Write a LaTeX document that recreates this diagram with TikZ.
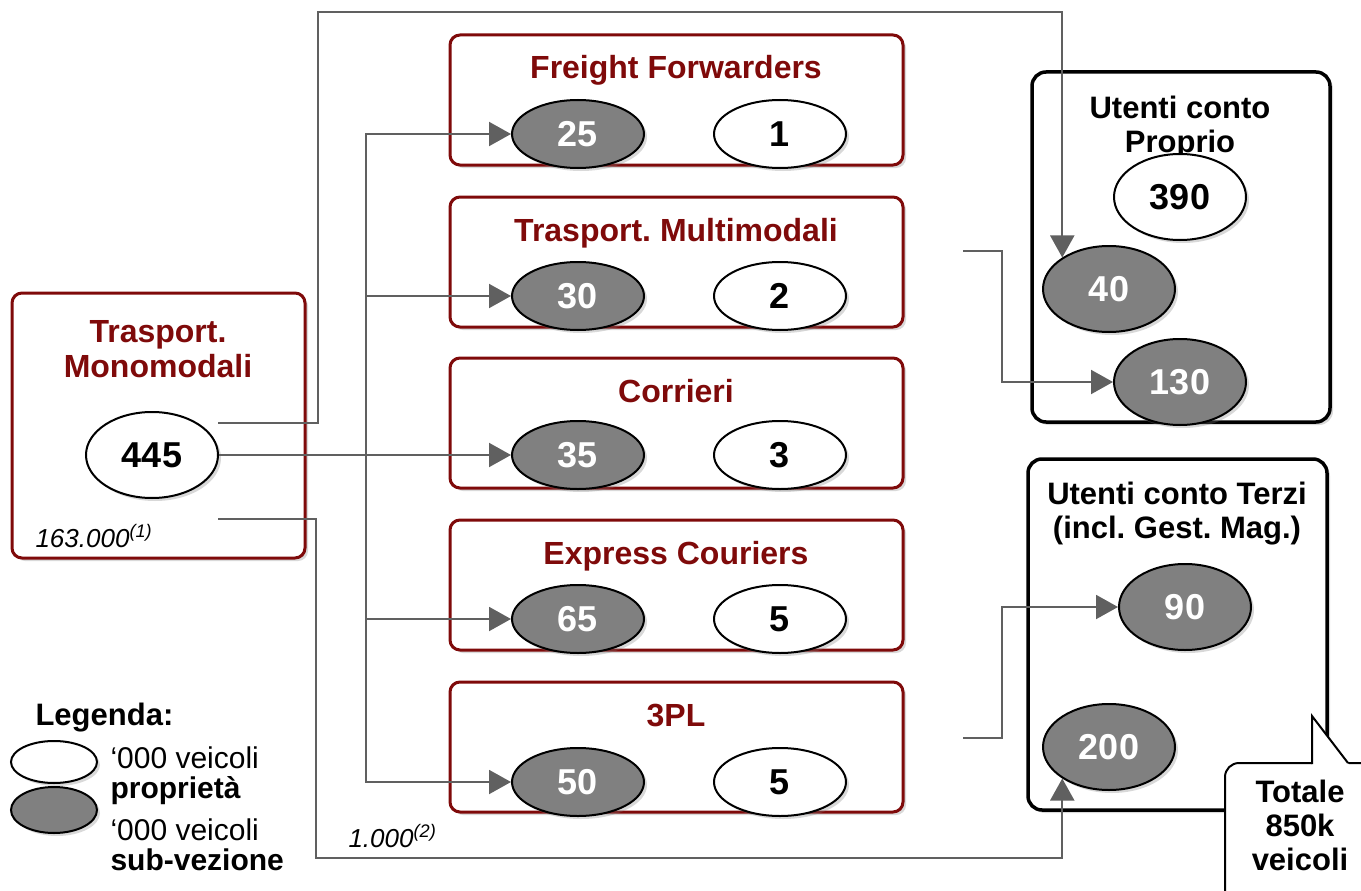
\documentclass[tikz,border=0pt]{standalone}
\usepackage{fontspec}
\setmainfont{Liberation Sans}
\usetikzlibrary{arrows.meta,shapes.geometric,shadows}
\definecolor{darkred}{HTML}{7F0A0A}
\definecolor{linegray}{HTML}{606060}
\definecolor{subgray}{HTML}{808080}
\frenchspacing

\begin{document}
\begin{tikzpicture}[x=1pt,y=-1pt,
  shade/.style={drop shadow={shadow xshift=3pt,shadow yshift=-3pt,opacity=0.3}},
  redbox/.style={draw=darkred,line width=3pt,rounded corners=10pt,fill=white,shade,minimum width=453pt,minimum height=130pt},
  userbox/.style={draw=black,line width=3.5pt,rounded corners=14pt,fill=white,shade},
  own/.style={ellipse,draw=black,line width=2pt,fill=white,shade,minimum width=132pt,minimum height=68pt,inner sep=0pt,font=\fontsize{36}{36}\selectfont\bfseries},
  sub/.style={own,fill=subgray,text=white},
  big/.style={minimum height=86pt},
  conn/.style={draw=linegray,line width=2pt},
  arr/.style={conn,-{Triangle[length=22pt,width=24pt]}},
  boxtitle/.style={font=\fontsize{32}{35}\selectfont\bfseries,text=darkred,anchor=base,align=center},
  usertitle/.style={font=\fontsize{31}{34}\selectfont\bfseries,anchor=base,align=center},
  note/.style={font=\fontsize{26}{26}\selectfont\itshape,anchor=base west},
  legtext/.style={font=\fontsize{30}{30}\selectfont,anchor=base west,align=left}
]
\useasboundingbox (0,0) rectangle (1361,891);
\clip (0,0) rectangle (1361,891);

% left box (multi-line texts sit on their last baseline)
\node[redbox,minimum width=293pt,minimum height=265pt] (mono) at (158.5,425.5) {};
\node[boxtitle] (monot) at (158,377) {Trasport.\\Monomodali};
\node[note] (monon) at (32,547) {163.000\textsuperscript{(1)}};

% middle boxes
\node[redbox] (ff) at (676.5,100) {};
\node[redbox] (tm) at (676.5,262) {};
\node[redbox] (co) at (676.5,423) {};
\node[redbox] (ec) at (676.5,585) {};
\node[redbox] (pl) at (676.5,747) {};
\node[boxtitle] (fft) at (676,79) {Freight Forwarders};
\node[boxtitle] (tmt) at (676,241) {Trasport. Multimodali};
\node[boxtitle] (cot) at (676,402) {Corrieri};
\node[boxtitle] (ect) at (676,564) {Express Couriers};
\node[boxtitle] (plt) at (676,726) {3PL};

% right boxes
\node[userbox,minimum width=298pt,minimum height=350pt] (cp) at (1181,247) {};
\node[userbox,minimum width=299pt,minimum height=351pt] (ct) at (1177.5,634.5) {};
\node[usertitle] (cpt) at (1180,152) {Utenti conto\\Proprio};
\node[usertitle] (ctt) at (1177,538) {Utenti conto Terzi\\(incl. Gest. Mag.)};

% ellipses
\node[own,big] (m445) at (152,455) {445};
\node[sub] (c25) at (578,134) {25};
\node[own] (p1) at (780,134) {1};
\node[sub] (c30) at (578,296) {30};
\node[own] (p2) at (780,296) {2};
\node[sub] (c35) at (578,455) {35};
\node[own] (p3) at (780,455) {3};
\node[sub] (c65) at (578,619) {65};
\node[own] (p5) at (780,619) {5};
\node[sub] (c50) at (578,782) {50};
\node[own] (p5b) at (780,782) {5};
\node[own,big] (u390) at (1180,197) {390};
\node[sub,big] (u40) at (1109,289) {40};
\node[sub,big] (u130) at (1180,382) {130};
\node[sub,big] (u90) at (1185,607) {90};
\node[sub,big] (u200) at (1109,747) {200};

% connectors
\coordinate (mtop) at (218,423);
\coordinate (mbot) at (218,519);
\coordinate (bus) at (366,455);
\coordinate (tmout) at (963,251);
\coordinate (plout) at (963,738);
\draw[arr] (mtop) -| (318,12) -| (u40.146);
\draw[arr] (mbot) -| (316,858) -| (u200.214);
\draw[arr] (m445.east) -- (c35.west);
\draw[arr] (bus) |- (c25.west);
\draw[arr] (bus) |- (c30.west);
\draw[arr] (bus) |- (c65.west);
\draw[arr] (bus) |- (c50.west);
\draw[arr] (tmout) -| (1002,320) |- (u130.west);
\draw[arr] (plout) -| (1002,650) |- (u90.west);
\node[note] (frn) at (345,847) {1.000\textsuperscript{(2)}};

% callout
\draw[line width=2pt,fill=white,rounded corners=14pt,shade] (1225,763) rectangle (1420,960);
\fill[white] (1312,766) -- (1312,716) -- (1350,766) -- cycle;
\draw[line width=2pt,line join=miter] (1312,764) -- (1312,716) -- (1348,763);
\node[usertitle] (tot) at (1300,870) {Totale\\850k\\veicoli};

% legend
\node[font=\fontsize{31}{31}\selectfont\bfseries,anchor=base west] (leg) at (32,725) {Legenda:};
\node[own,minimum width=86pt,minimum height=42pt] (lown) at (54,762) {};
\node[sub,minimum width=86pt,minimum height=46pt] (lsub) at (54,810) {};
\node[legtext] (lownt) at (107,798) {‘000 veicoli\\\textbf{proprietà}};
\node[legtext] (lsubt) at (107,870) {‘000 veicoli\\\textbf{sub-vezione}};
\end{tikzpicture}
\end{document}
